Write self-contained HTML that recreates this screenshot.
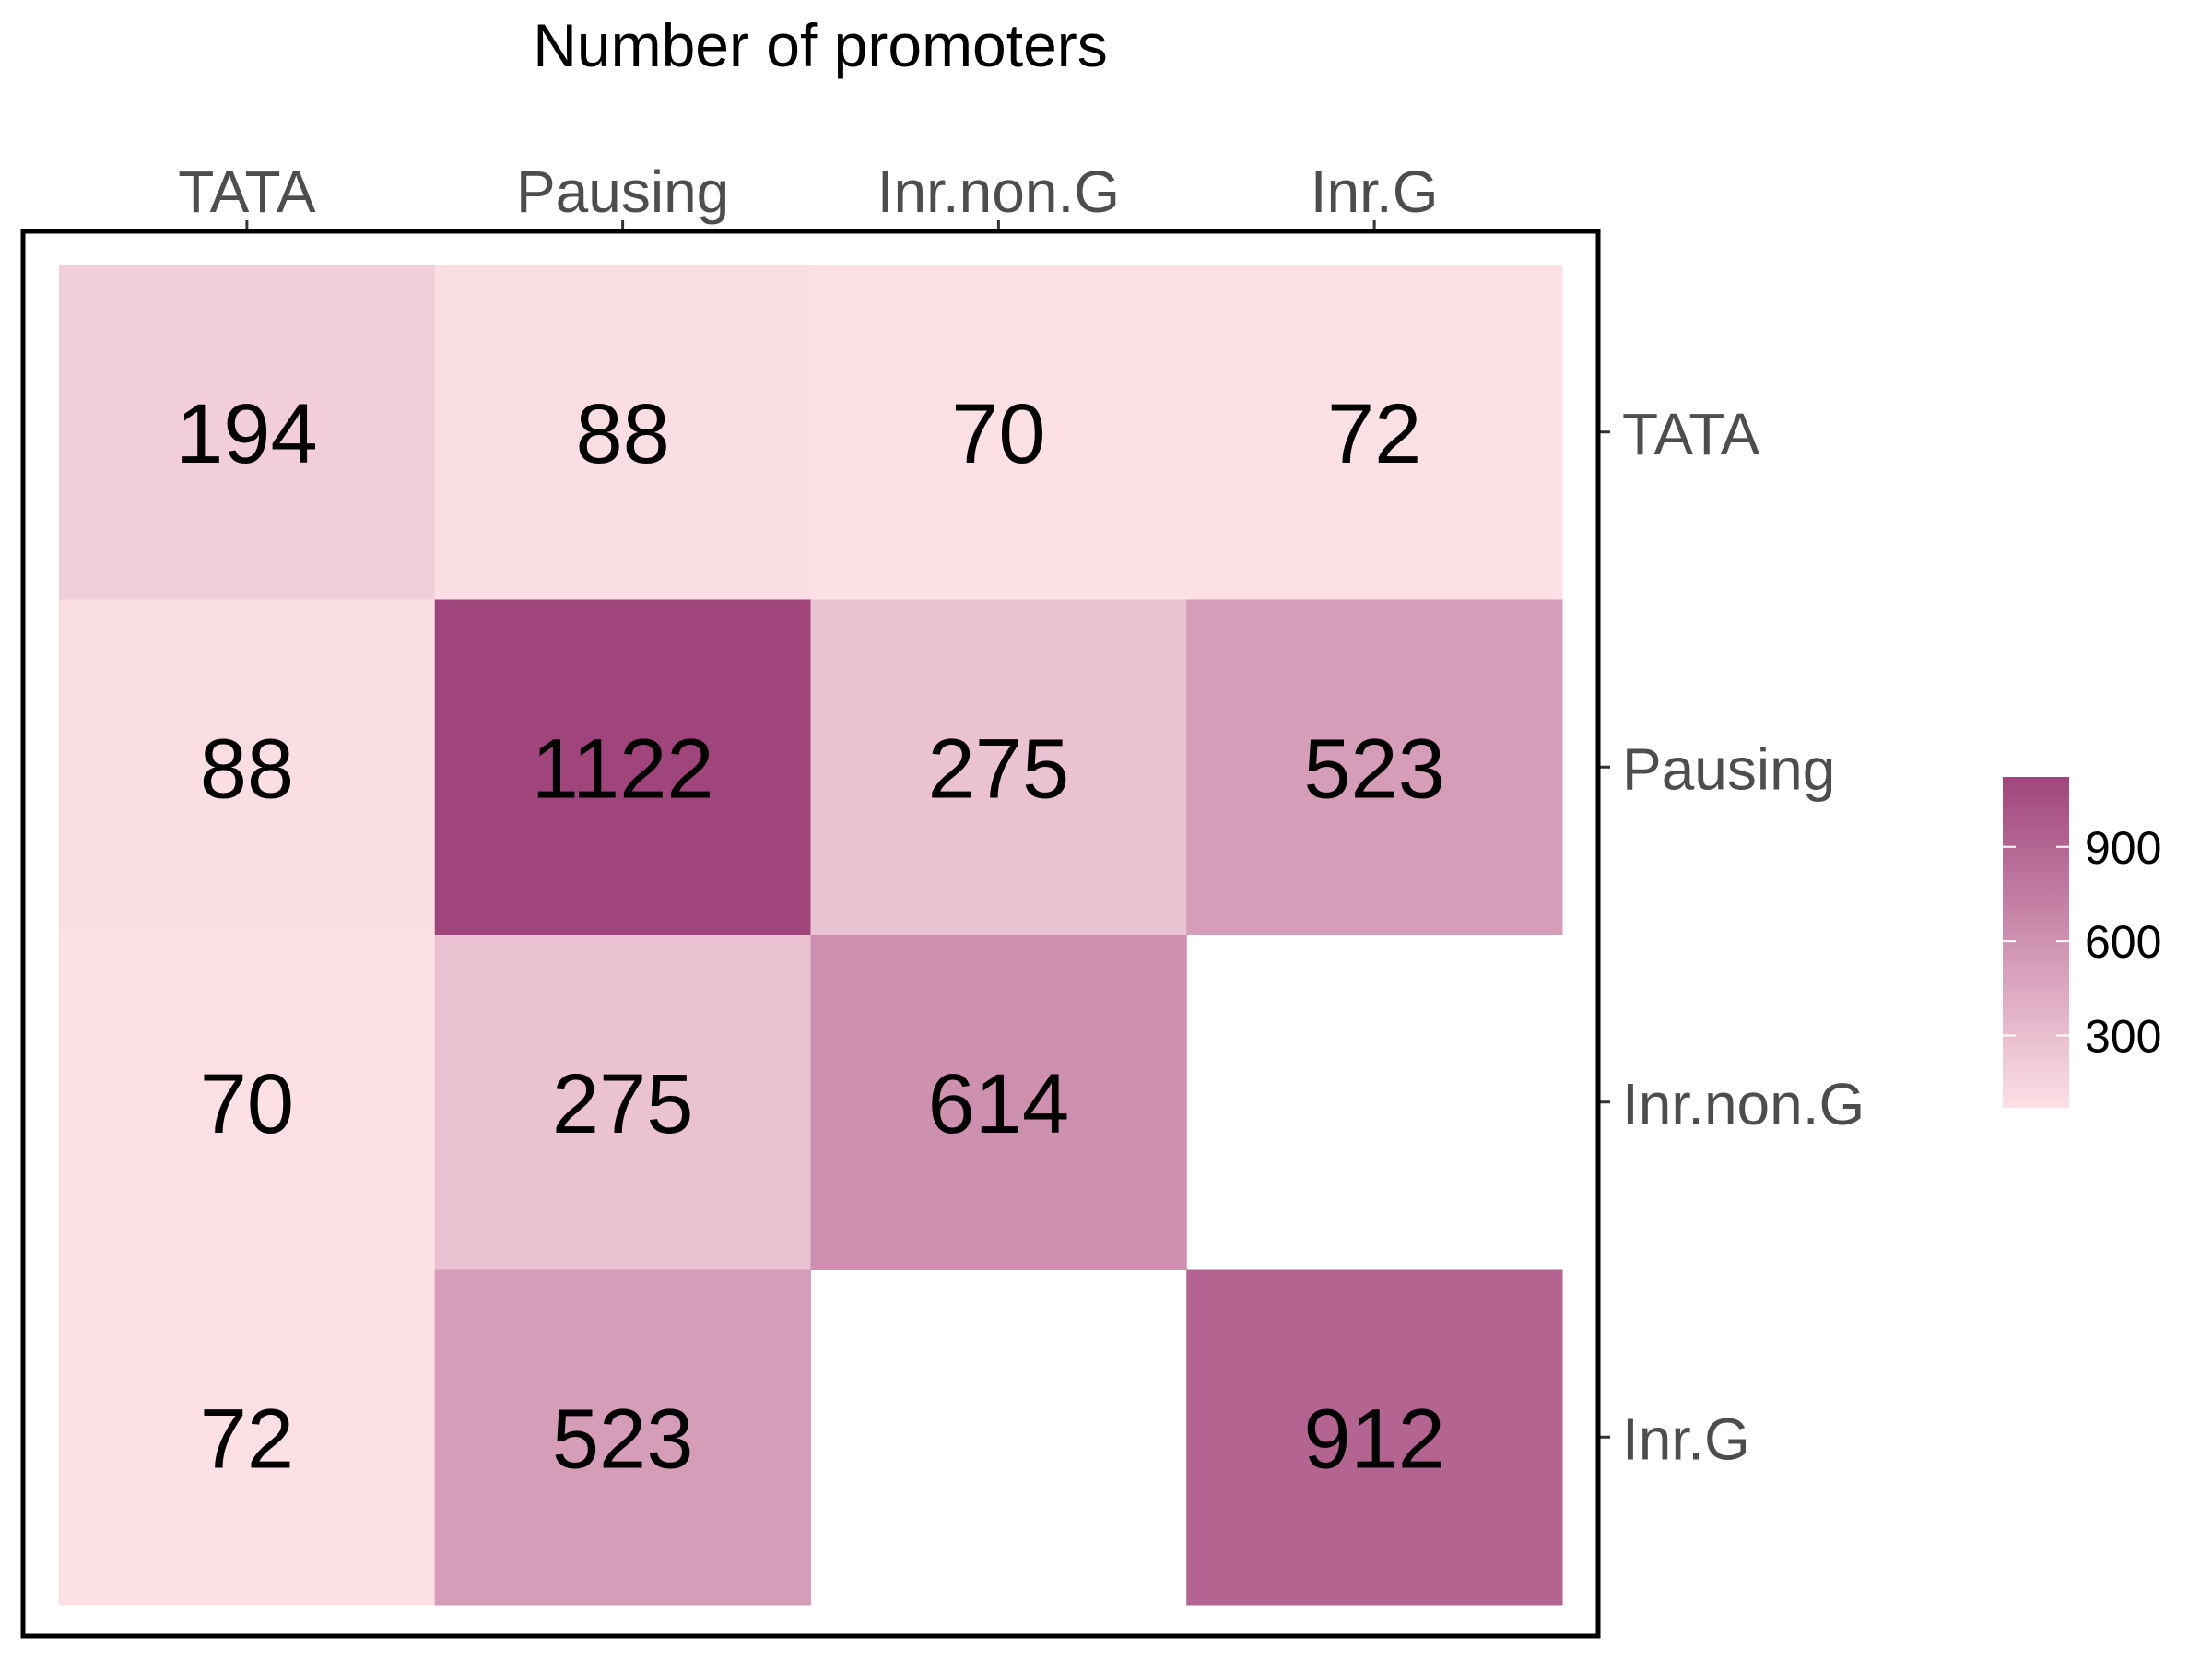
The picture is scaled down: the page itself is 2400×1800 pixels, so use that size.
<!DOCTYPE html>
<html><head><meta charset="utf-8"><style>
html,body{margin:0;padding:0;background:#fff;}
svg{display:block;font-family:"Liberation Sans",Arial,sans-serif;}
</style></head><body>
<svg id="chart" width="2400" height="1800" viewBox="0 0 2400 1800" xmlns="http://www.w3.org/2000/svg">
<text x="890" y="72" font-size="66" text-anchor="middle" fill="#000">Number of promoters</text>
<g id="cells"></g>
<g id="xaxis"></g>
<g id="yaxis"></g>
<rect x="25" y="251" width="1709" height="1524" fill="none" stroke="#000" stroke-width="5"/>
<defs><linearGradient id="lg" x1="0" y1="1" x2="0" y2="0">
<stop offset="0" stop-color="#fde0e6"/><stop offset="1" stop-color="#a0457c"/></linearGradient></defs>
<g id="legend"></g>
</svg>
<script>
const categories = ["TATA","Pausing","Inr.non.G","Inr.G"];
const rowTATA = [194, 88, 70, 72];
const rowPausing = [88, 1122, 275, 523];
const rowInrNonG = [70, 275, 614, null];
const rowInrG = [72, 523, null, 912];
const legendTicks = [300, 600, 900];
const rows = [rowTATA, rowPausing, rowInrNonG, rowInrG];

const NS = "http://www.w3.org/2000/svg";
const x0 = 64, x1 = 1695, y0 = 287, y1 = 1741;
const cw = (x1 - x0) / categories.length, ch = (y1 - y0) / categories.length;
const xPos = i => x0 + cw * i;
const yPos = j => y0 + ch * j;
const allVals = rows.flat().filter(v => v !== null);
const vmin = Math.min(...allVals), vmax = Math.max(...allVals);
const lo = [253,224,230], hi = [160,69,124];
function color(v){
  const t = (v - vmin) / (vmax - vmin);
  const c = lo.map((a,k) => Math.round(a + (hi[k]-a)*t));
  return `rgb(${c[0]},${c[1]},${c[2]})`;
}
function mk(tag, attrs, parent){
  const e = document.createElementNS(NS, tag);
  for (const k in attrs) e.setAttribute(k, attrs[k]);
  parent.appendChild(e); return e;
}
const cells = document.getElementById("cells");
rows.forEach((row, j) => {
  row.forEach((v, i) => {
    if (v === null) return;
    const r = mk("rect", {x: xPos(i), y: yPos(j), width: cw + 0.5, height: ch + 0.5, fill: color(v)}, cells);
    
    
    const t = mk("text", {x: xPos(i) + cw/2, y: yPos(j) + ch/2 + 33, "font-size": 92, "text-anchor": "middle", fill: "#000"}, cells);
    t.textContent = v;
    
    
  });
});
const xa = document.getElementById("xaxis");
categories.forEach((c, i) => {
  const cx = xPos(i) + cw/2;
  const tk = mk("line", {x1: cx, x2: cx, y1: 239, y2: 251, stroke: "#333", "stroke-width": 3}, xa);
  
  
  const t = mk("text", {x: cx, y: 230, "font-size": 64, "text-anchor": "middle", fill: "#4d4d4d"}, xa);
  t.textContent = c;
  
  
});
const ya = document.getElementById("yaxis");
categories.forEach((c, j) => {
  const cy = yPos(j) + ch/2;
  const tk = mk("line", {x1: 1734, x2: 1747, y1: cy, y2: cy, stroke: "#333", "stroke-width": 3}, ya);
  
  
  const t = mk("text", {x: 1760, y: cy + 24, "font-size": 64, fill: "#4d4d4d"}, ya);
  t.textContent = c;
  
  
});
const lg = document.getElementById("legend");
const lx = 2173, lw = 72, ly0 = 843, ly1 = 1202;
const bar = mk("rect", {x: lx, y: ly0, width: lw, height: ly1 - ly0, fill: "url(#lg)"}, lg);


const ly = v => ly1 - (v - vmin) / (vmax - vmin) * (ly1 - ly0);
legendTicks.forEach(v => {
  const y = ly(v);
  const a = mk("line", {x1: lx, x2: lx + 14, y1: y, y2: y, stroke: "#fff", "stroke-width": 2}, lg);
  
  
  const b = mk("line", {x1: lx + lw - 14, x2: lx + lw, y1: y, y2: y, stroke: "#fff", "stroke-width": 2}, lg);
  
  
  const t = mk("text", {x: 2262, y: y + 18, "font-size": 50, fill: "#000"}, lg);
  t.textContent = v;
  
  
});
</script>
</body></html>
